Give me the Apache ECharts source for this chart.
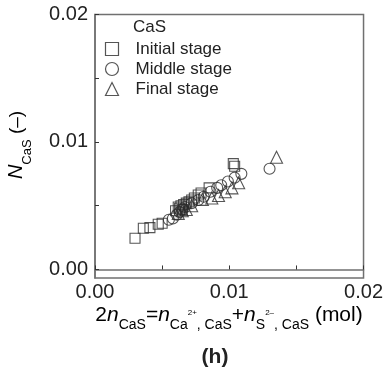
<!DOCTYPE html>
<html>
<head>
<meta charset="utf-8">
<script src="https://cdn.jsdelivr.net/npm/echarts@6/dist/echarts.min.js"></script>
<style>
html,body{margin:0;padding:0;background:#fff;}
#main{width:386px;height:383px;}
</style>
</head>
<body>
<div id="main"></div>
<script>
// ---- data ----
var seriesNames = ['Initial stage', 'Middle stage', 'Final stage'];
var initialStage = [
  [0.00298,0.00245],[0.00360,0.00323],[0.00409,0.00328],[0.00471,0.00355],[0.00500,0.00362],
  [0.00600,0.00460],[0.00620,0.00490],[0.00630,0.00480],[0.00640,0.00500],[0.00650,0.00470],
  [0.00660,0.00510],[0.00680,0.00520],[0.00700,0.00530],[0.00720,0.00545],[0.00740,0.00560],
  [0.00769,0.00584],[0.00790,0.00600],[0.00850,0.00640],[0.01030,0.00830],[0.01040,0.00810]
];
var middleStage = [
  [0.00550,0.00390],[0.00580,0.00400],[0.00610,0.00430],[0.00630,0.00450],[0.00650,0.00470],
  [0.00670,0.00490],[0.00720,0.00520],[0.00770,0.00545],[0.00810,0.00570],[0.00860,0.00610],
  [0.00910,0.00640],[0.00940,0.00660],[0.00990,0.00690],[0.01040,0.00720],[0.01090,0.00750],
  [0.01300,0.00790]
];
var finalStage = [
  [0.00620,0.00440],[0.00650,0.00460],[0.00680,0.00470],[0.00720,0.00500],[0.00800,0.00550],
  [0.00870,0.00560],[0.00920,0.00580],[0.00970,0.00610],[0.01020,0.00640],[0.01070,0.00680],
  [0.01352,0.00880]
];
var xTickLabels = [0, 0.01, 0.02];
var xTicks = [0, 0.005, 0.01, 0.015, 0.02];
var yTickLabels = [0, 0.01, 0.02];
var yTicks = [0, 0.005, 0.01, 0.015, 0.02];

var FONT = "'Liberation Sans', Arial, Helvetica, sans-serif";
var MARK = '#2a2a2a';
var AXC = '#707070';

var chart = echarts.init(document.getElementById('main'), null, {renderer:'canvas'});

function sc(name, data, symbol, size){
  return {
    name: name, type: 'scatter', data: data, symbol: symbol, symbolSize: size,
    itemStyle: {color: 'none', borderColor: MARK, borderWidth: 1.1},
    emphasis: {disabled: true}, animation: false
  };
}

var subStyle = {fontFamily: FONT, fontSize: 14, lineHeight: 28, padding: [19,0,0,0], color: '#222'};
var supStyle = {fontFamily: FONT, fontSize: 8, lineHeight: 28, padding: [0,0,5,0], color: '#222'};
var mainStyle = {fontFamily: FONT, fontSize: 21, lineHeight: 28, color: '#222'};
var itStyle = {fontFamily: FONT, fontSize: 21, lineHeight: 28, fontStyle: 'italic', color: '#222'};

chart.setOption({
  backgroundColor: '#fff',
  animation: false,
  grid: {left: 95, right: 22, top: 14.5, bottom: 105, show: true, borderColor: AXC, borderWidth: 1.5, backgroundColor: 'transparent'},
  xAxis: {
    type: 'value', min: 0, max: 0.02,
    axisLine: {show: true, lineStyle: {color: AXC, width: 1.5}},
    axisTick: {show: true, inside: true, length: 4, customValues: xTicks, lineStyle: {color: '#333'}},
    axisLabel: {customValues: xTickLabels, formatter: function(v){return v.toFixed(2);}, fontFamily: FONT, fontSize: 20, color: '#222', margin: 4},
    splitLine: {show: false}
  },
  yAxis: {
    type: 'value', min: -0.00067, max: 0.02,
    axisLine: {show: true, lineStyle: {color: AXC, width: 1.5}},
    axisTick: {show: true, inside: true, length: 4, customValues: yTicks, lineStyle: {color: '#333'}},
    axisLabel: {customValues: yTickLabels, formatter: function(v){return v.toFixed(2);}, fontFamily: FONT, fontSize: 20, color: '#222', margin: 7},
    splitLine: {show: false}
  },
  legend: {
    orient: 'vertical', left: 103, top: 39, padding: 0, itemGap: 0,
    itemWidth: 13, itemHeight: 13,
    textStyle: {fontFamily: FONT, fontSize: 17, color: '#222', lineHeight: 20, padding: [0,0,0,12]},
    data: [
      {name: seriesNames[0], icon: 'rect', itemStyle: {color: 'none', borderColor: MARK, borderWidth: 1.2}},
      {name: seriesNames[1], icon: 'circle', itemStyle: {color: 'none', borderColor: MARK, borderWidth: 1.2}},
      {name: seriesNames[2], icon: 'triangle', itemStyle: {color: 'none', borderColor: MARK, borderWidth: 1.2}}
    ],
    selectedMode: false
  },
  graphic: [
    {type: 'text', left: 133, top: 19, style: {text: 'CaS', fontFamily: FONT, fontSize: 17, fill: '#222'}},
    {type: 'text', x: 16.5, y: 145, rotation: Math.PI/2,
     style: {text: '{it|N}{sub|CaS}{m| (–)}', align: 'center', verticalAlign: 'middle',
       rich: {it: Object.assign({}, itStyle, {fontSize: 20}), sub: Object.assign({}, subStyle, {fontSize: 13, padding:[22,0,0,0]}), m: Object.assign({}, mainStyle, {fontSize: 19})}}},
    {type: 'text', x: 229, y: 315.5,
     style: {text: '{m|2}{it|n}{sub|CaS}{m|=}{it|n}{sub|Ca}{sup|2+}{sub|, CaS}{m|+}{it|n}{sub|S}{sup|2–}{sub|, CaS}{m| (mol)}',
       align: 'center', verticalAlign: 'middle',
       rich: {m: mainStyle, it: itStyle, sub: subStyle, sup: supStyle}}},
    {type: 'text', x: 215, y: 357, style: {text: '(h)', align: 'center', verticalAlign: 'middle', fontFamily: FONT, fontSize: 21, fontWeight: 'bold', fill: '#222'}}
  ],
  series: [
    sc(seriesNames[0], initialStage, 'rect', 10),
    sc(seriesNames[1], middleStage, 'circle', 11),
    sc(seriesNames[2], finalStage, 'triangle', 12)
  ]
});
</script>
</body>
</html>
